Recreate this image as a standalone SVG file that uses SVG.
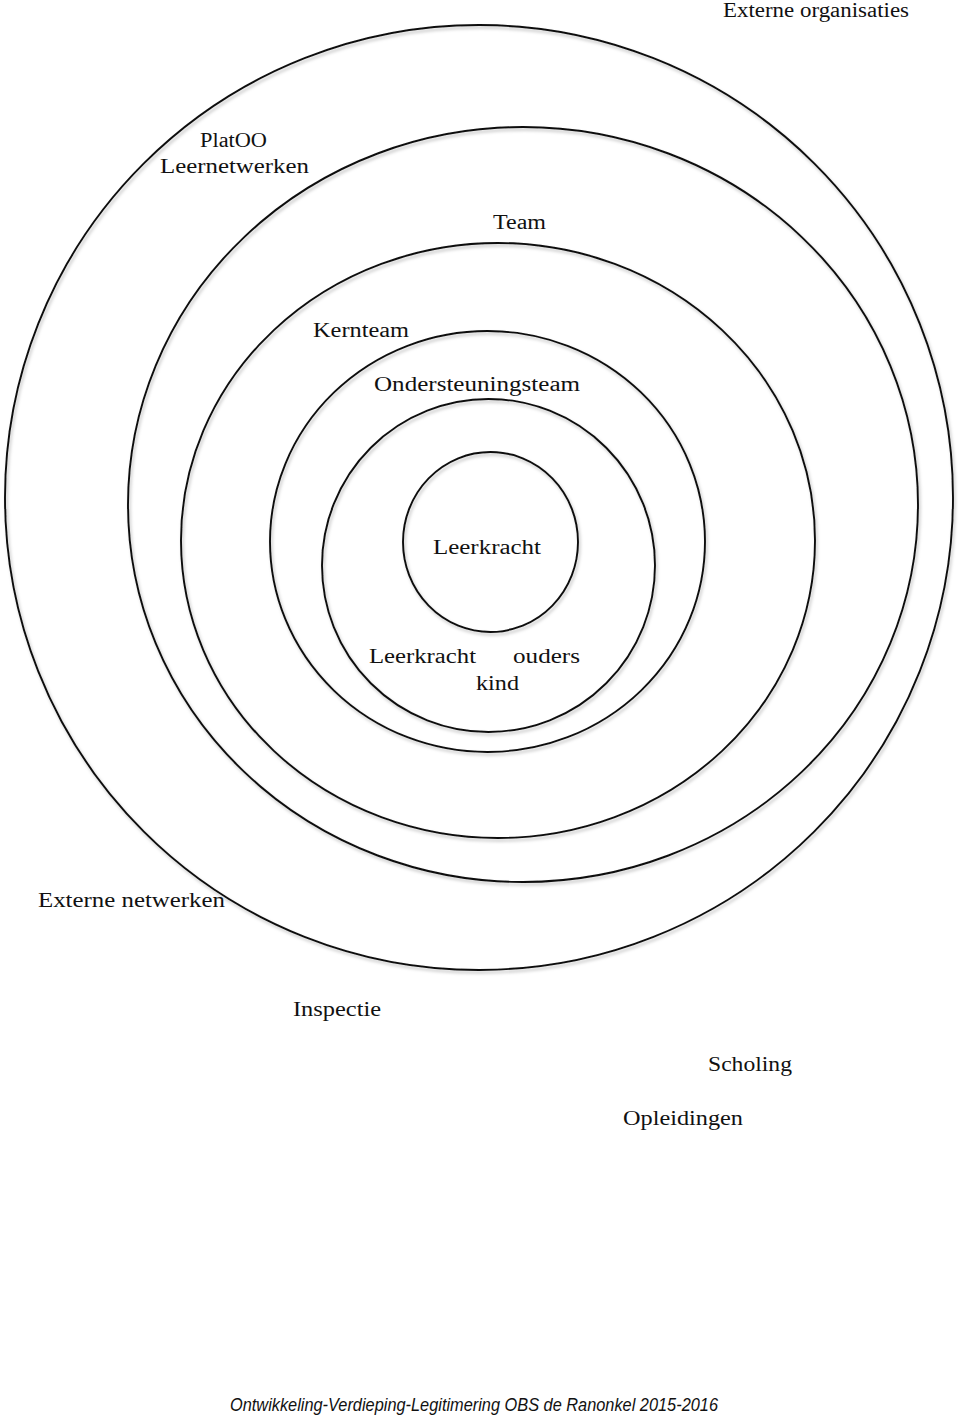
<svg xmlns="http://www.w3.org/2000/svg" width="960" height="1416" viewBox="0 0 960 1416">
  <defs>
    <filter id="shadow" x="-10%" y="-10%" width="120%" height="120%">
      <feDropShadow dx="1.5" dy="2.5" stdDeviation="1.5" flood-color="#000" flood-opacity="0.25"/>
    </filter>
  </defs>
  <style>
    .ring { fill: none; stroke: #111; stroke-width: 1.9; filter: url(#shadow); }
    .lbl { font-family: "Liberation Serif", "Times New Roman", serif; font-size: 20px; fill: #111; }
    .foot { font-family: "Liberation Sans", Arial, sans-serif; font-style: italic; font-size: 18px; fill: #111; }
  </style>
  <rect width="960" height="1416" fill="#fff"/>

  <g id="ring-externe-organisaties">
    <ellipse class="ring" cx="479" cy="497.5" rx="474" ry="472.5"/>
  </g>
  <g id="ring-platoo">
    <ellipse class="ring" cx="523" cy="504.5" rx="395" ry="377.5"/>
  </g>
  <g id="ring-team">
    <ellipse class="ring" cx="498" cy="540.5" rx="317" ry="297.5"/>
  </g>
  <g id="ring-kernteam">
    <ellipse class="ring" cx="487.5" cy="541.5" rx="217.5" ry="210.5"/>
  </g>
  <g id="ring-ondersteuningsteam">
    <ellipse class="ring" cx="488.5" cy="565.5" rx="166.5" ry="166.5"/>
  </g>
  <g id="ring-leerkracht">
    <ellipse class="ring" cx="490.5" cy="542" rx="87.5" ry="90"/>
  </g>

  <g id="labels">
    <text class="lbl" x="723" y="17" textLength="186" lengthAdjust="spacingAndGlyphs">Externe organisaties</text>
    <text class="lbl" x="200" y="147" textLength="67" lengthAdjust="spacingAndGlyphs">PlatOO</text>
    <text class="lbl" x="160" y="173" textLength="149" lengthAdjust="spacingAndGlyphs">Leernetwerken</text>
    <text class="lbl" x="493" y="229" textLength="53" lengthAdjust="spacingAndGlyphs">Team</text>
    <text class="lbl" x="313" y="337" textLength="96" lengthAdjust="spacingAndGlyphs">Kernteam</text>
    <text class="lbl" x="374" y="391" textLength="206" lengthAdjust="spacingAndGlyphs">Ondersteuningsteam</text>
    <text class="lbl" x="433" y="554" textLength="108" lengthAdjust="spacingAndGlyphs">Leerkracht</text>
    <text class="lbl" x="369" y="663" textLength="107" lengthAdjust="spacingAndGlyphs">Leerkracht</text>
    <text class="lbl" x="513" y="663" textLength="67" lengthAdjust="spacingAndGlyphs">ouders</text>
    <text class="lbl" x="476" y="690" textLength="43" lengthAdjust="spacingAndGlyphs">kind</text>
    <text class="lbl" x="38" y="907" textLength="187" lengthAdjust="spacingAndGlyphs">Externe netwerken</text>
    <text class="lbl" x="293" y="1016" textLength="88" lengthAdjust="spacingAndGlyphs">Inspectie</text>
    <text class="lbl" x="708" y="1071" textLength="84" lengthAdjust="spacingAndGlyphs">Scholing</text>
    <text class="lbl" x="623" y="1125" textLength="120" lengthAdjust="spacingAndGlyphs">Opleidingen</text>
    <text class="foot" x="230" y="1411" textLength="488" lengthAdjust="spacingAndGlyphs">Ontwikkeling-Verdieping-Legitimering OBS de Ranonkel 2015-2016</text>
  </g>
</svg>
